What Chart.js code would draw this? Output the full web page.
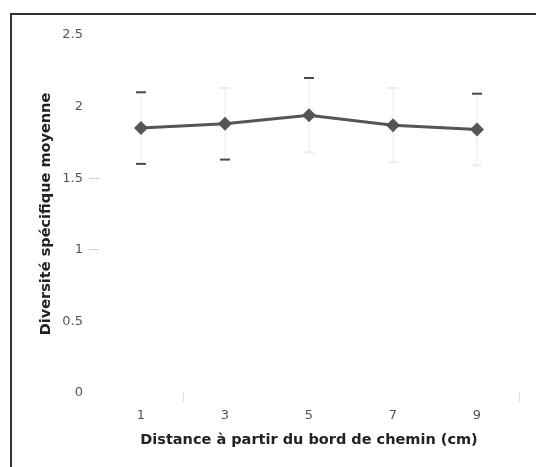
<!DOCTYPE html>
<html>
<head>
<meta charset="utf-8">
<script src="https://cdn.jsdelivr.net/npm/chart.js@4/dist/chart.umd.min.js"></script>
<style>
  html, body { margin: 0; padding: 0; background: #fff; overflow: hidden; }
  #wrap { position: relative; width: 536px; height: 467px; }
  #frame { position: absolute; left: 10px; top: 13px; width: 600px; height: 500px;
           border-left: 2px solid #333; border-top: 2px solid #333; }
  canvas { position: absolute; left: 0; top: 0; }
</style>
</head>
<body>
<div id="wrap">
  <div id="frame"></div>
  <canvas id="chart" width="536" height="467"></canvas>
</div>
<script>
// Data
const distances = ['1', '3', '5', '7', '9'];
const meanDiversity = [1.85, 1.88, 1.94, 1.87, 1.84];
const errorDiversity = [0.25, 0.25, 0.26, 0.26, 0.25];
const yTicks = [0, 0.5, 1, 1.5, 2, 2.5];

// which caps are drawn dark (top, bottom) - the rest are faint
const capDark = [[true, true], [false, true], [true, false], [false, false], [true, false]];

const FONT = 'DejaVu Sans, sans-serif';

const errorBars = {
    id: 'errorBars',
    beforeDatasetsDraw(chart) {
        const ctx = chart.ctx;
        const meta = chart.getDatasetMeta(0);
        const y = chart.scales.y;
        ctx.save();
        meta.data.forEach((pt, i) => {
            const top = y.getPixelForValue(meanDiversity[i] + errorDiversity[i]);
            const bot = y.getPixelForValue(meanDiversity[i] - errorDiversity[i]);
            ctx.strokeStyle = '#ececec';
            ctx.lineWidth = 1;
            ctx.beginPath();
            ctx.moveTo(pt.x, top);
            ctx.lineTo(pt.x, bot);
            ctx.stroke();
            [top, bot].forEach((yy, k) => {
                ctx.strokeStyle = capDark[i][k] ? '#4a4a4a' : '#ececec';
                ctx.lineWidth = 2;
                ctx.beginPath();
                ctx.moveTo(pt.x - 5, yy);
                ctx.lineTo(pt.x + 5, yy);
                ctx.stroke();
            });
        });
        ctx.restore();
    }
};

new Chart(document.getElementById('chart'), {
    type: 'line',
    data: {
        labels: distances,
        datasets: [{
            data: meanDiversity,
            borderColor: '#555',
            backgroundColor: '#555',
            borderWidth: 3,
            pointStyle: 'rectRot',
            pointRadius: 7,
            pointBorderWidth: 0,
            tension: 0
        }]
    },
    options: {
        responsive: false,
        animation: false,
        layout: { padding: { left: 34, right: 17, top: 35, bottom: 14 } },
        plugins: { legend: { display: false }, tooltip: { enabled: false } },
        scales: {
            x: {
                offset: true,
                border: { display: false },
                grid: {
                    offset: true,
                    drawOnChartArea: false,
                    tickLength: 9,
                    color: (c) => (c.index === 1 || !c.tick) ? '#dcdcdc' : 'rgba(0,0,0,0)'
                },
                ticks: {
                    color: '#555',
                    padding: 6,
                    font: { family: FONT, size: 13 }
                },
                title: {
                    display: true,
                    text: 'Distance à partir du bord de chemin (cm)',
                    color: '#222',
                    padding: { top: 0 },
                    font: { family: FONT, size: 14.5, weight: 'bold' }
                },
                afterFit: (scale) => { scale.height = 60; }
            },
            y: {
                min: 0,
                max: 2.5,
                border: { display: false },
                afterBuildTicks: (scale) => { scale.ticks = yTicks.map(v => ({ value: v })); },
                grid: {
                    drawOnChartArea: false,
                    tickLength: 10,
                    color: (c) => (c.tick && (c.tick.value === 1.5 || c.tick.value === 1)) ? '#d0d0d0' : 'rgba(0,0,0,0)'
                },
                ticks: {
                    color: '#555',
                    padding: 6,
                    callback: (v) => String(v),
                    font: { family: FONT, size: 13 }
                },
                title: {
                    display: true,
                    text: 'Diversité spécifique moyenne',
                    color: '#222',
                    padding: { bottom: 9 },
                    font: { family: FONT, size: 14.5, weight: 'bold' }
                },
                afterFit: (scale) => { scale.width = 65; }
            }
        }
    },
    plugins: [errorBars]
});
</script>
</body>
</html>
